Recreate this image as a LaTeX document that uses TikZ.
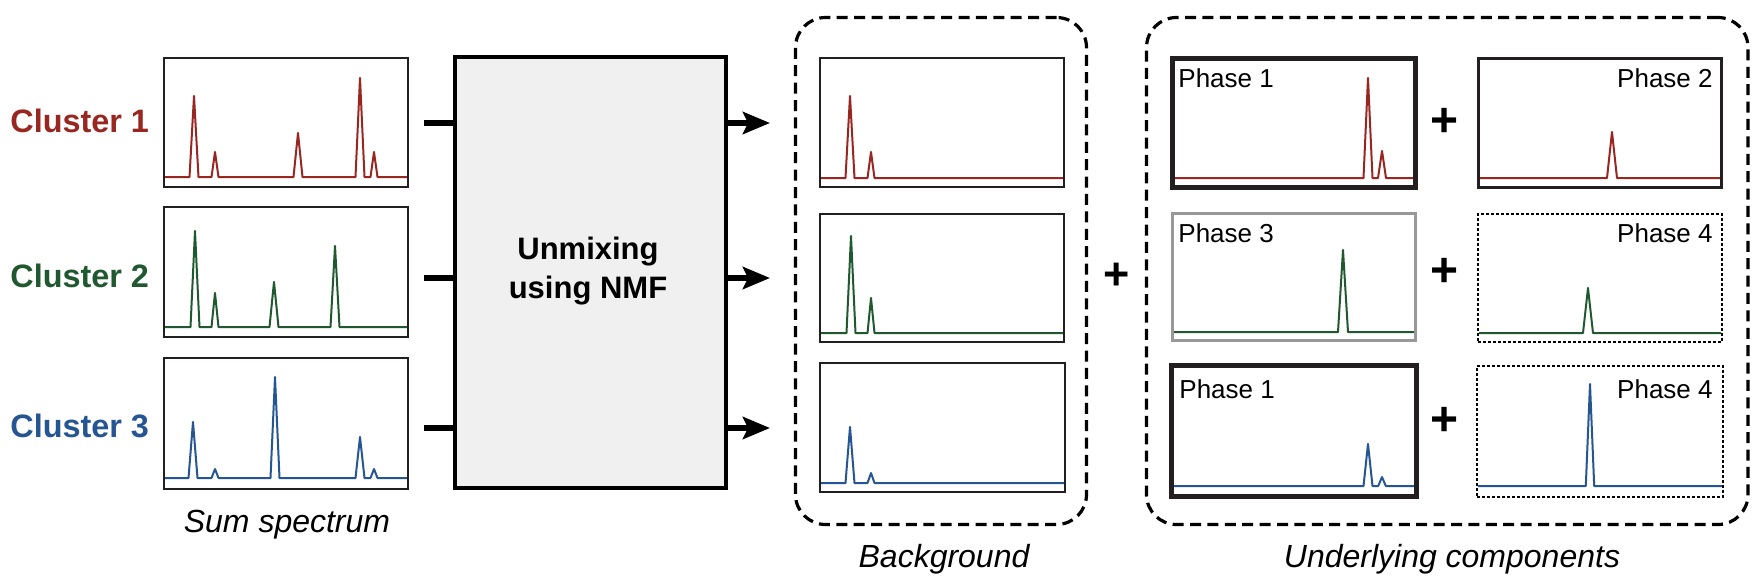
\documentclass[tikz,border=0pt]{standalone}
\usepackage{fontspec}
\setmainfont{Liberation Sans}
\usetikzlibrary{arrows.meta,fit}
\definecolor{cred}{RGB}{152,38,33}
\definecolor{cgreen}{RGB}{32,88,48}
\definecolor{cblue}{RGB}{38,86,146}
\definecolor{bdark}{RGB}{35,31,32}
\definecolor{nmffill}{RGB}{240,240,240}
\definecolor{bgray}{RGB}{152,152,152}
\begin{document}
\begin{tikzpicture}[x=0.5pt,y=-0.5pt,
  specbox/.style={draw=bdark,line width=1.35pt,inner sep=0pt,outer sep=0pt},
  thickbox/.style={draw=bdark,line width=2.4pt,inner sep=0pt,outer sep=0pt},
  graybox/.style={draw=bgray,line width=1.5pt,inner sep=0pt,outer sep=0pt},
  dotbox/.style={draw=black,line width=1.4pt,dash pattern=on 1.3pt off 1.2pt,inner sep=0pt,outer sep=0pt},
  groupbox/.style={draw=black,line width=1.6pt,dash pattern=on 5.5pt off 3.2pt,rounded corners=15pt,inner sep=0pt,outer sep=0pt},
  nmfbox/.style={draw=black,fill=nmffill,line width=2pt,inner sep=0pt,outer sep=0pt},
  clab/.style={inner sep=0pt,anchor=base west,font=\fontsize{16.2pt}{19pt}\selectfont\bfseries},
  captiontext/.style={inner sep=0pt,anchor=base,font=\fontsize{16pt}{19pt}\selectfont\itshape},
  phl/.style={inner sep=0pt,font=\fontsize{13pt}{15pt}\selectfont},
  plussign/.style={inner sep=0pt,font=\fontsize{24pt}{28pt}\selectfont\bfseries},
  conn/.style={draw=black,line width=2.8pt},
  arr/.style={conn,-{Stealth[length=13.5pt,width=11pt,inset=2.5pt]}},
  spec/.style={line width=1pt,line join=round}]
\fill[white] (0,0) rectangle (1758,580);
\useasboundingbox (0,0) rectangle (1758,580);

% group boxes
\node[groupbox,fit={(795.5,17.5) (1086.5,524.5)}] (gbg) {};
\node[groupbox,fit={(1146.5,17.5) (1748,524.5)}] (gun) {};

% NMF box
\node[nmfbox,fit={(455,57) (726,488)}] (nmf) {};
\node[inner sep=0pt,align=center,font=\fontsize{15.5pt}{19.5pt}\selectfont\bfseries] (nmft) at (588,271) {Unmixing\\using NMF};

% spectra: sum spectra
\draw[spec,cred] (164,177) -- (189.5,177) -- (194,96) -- (198.5,177) -- (211.5,177) -- (215,152) -- (218.5,177) -- (293.5,177) -- (298,133) -- (302.5,177) -- (355.5,177) -- (360,78) -- (364.5,177) -- (370.5,177) -- (374,152) -- (377.5,177) -- (408,177);
\draw[spec,cgreen] (164,327) -- (190.5,327) -- (195,231) -- (199.5,327) -- (211.5,327) -- (215,293) -- (218.5,327) -- (269.5,327) -- (274,282) -- (278.5,327) -- (330.5,327) -- (335,246) -- (339.5,327) -- (408,327);
\draw[spec,cblue] (164,478) -- (188.5,478) -- (193,422) -- (197.5,478) -- (211.5,478) -- (215,469) -- (218.5,478) -- (270.5,478) -- (275,377) -- (279.5,478) -- (355.5,478) -- (360,437) -- (364.5,478) -- (370.5,478) -- (374,469) -- (377.5,478) -- (408,478);

% background spectra
\draw[spec,cred] (820,178) -- (845.5,178) -- (850,96) -- (854.5,178) -- (867.5,178) -- (871,152) -- (874.5,178) -- (1064,178);
\draw[spec,cgreen] (820,333) -- (846.5,333) -- (851,236) -- (855.5,333) -- (867.5,333) -- (871,298) -- (874.5,333) -- (1064,333);
\draw[spec,cblue] (820,483) -- (845.5,483) -- (850,427) -- (854.5,483) -- (867.5,483) -- (871,473) -- (874.5,483) -- (1065,483);

% component spectra
\draw[spec,cred] (1174,178) -- (1363.5,178) -- (1368,78) -- (1372.5,178) -- (1378,178) -- (1382,151) -- (1386,178) -- (1414,178);
\draw[spec,cred] (1479,178) -- (1607,178) -- (1612,132) -- (1617,178) -- (1721,178);
\draw[spec,cgreen] (1174,332) -- (1338,332) -- (1343,250) -- (1348,332) -- (1414,332);
\draw[spec,cgreen] (1479,333) -- (1583,333) -- (1588,288) -- (1593,333) -- (1721,333);
\draw[spec,cblue] (1173,486) -- (1363.5,486) -- (1368,444) -- (1372.5,486) -- (1378.2,486) -- (1382,477) -- (1385.8,486) -- (1415,486);
\draw[spec,cblue] (1478,486) -- (1585.8,486) -- (1590,384) -- (1594.2,486) -- (1722,486);

% spectrum boxes
\node[specbox,fit={(164,58) (408,187)}] (c1) {};
\node[specbox,fit={(164,207) (408,337)}] (c2) {};
\node[specbox,fit={(164,358) (408,489)}] (c3) {};
\node[specbox,fit={(820,58) (1064,187)}] (bg1) {};
\node[specbox,fit={(820,214) (1064,342)}] (bg2) {};
\node[specbox,fit={(820,363) (1065,492)}] (bg3) {};
\node[thickbox,fit={(1172.5,58.5) (1415.5,187.5)}] (p1a) {};
\node[specbox,fit={(1478.3,58.3) (1721.7,187.7)}] (p2a) {};
\node[graybox,fit={(1172.5,213.5) (1415.5,340.5)}] (p3a) {};
\node[dotbox,fit={(1478,214) (1722,342)}] (p4a) {};
\node[thickbox,fit={(1171.5,365.5) (1416.5,496.5)}] (p1b) {};
\node[dotbox,fit={(1477,366) (1723,497)}] (p4b) {};

% labels
\node[clab,text=cred] (l1) at (10,132) {Cluster 1};
\node[clab,text=cgreen] (l2) at (10,287) {Cluster 2};
\node[clab,text=cblue] (l3) at (10,437) {Cluster 3};

\node[phl,anchor=base west] (t1) at (1178,87) {Phase 1};
\node[phl,anchor=base east] (t2) at (1713,87) {Phase 2};
\node[phl,anchor=base west] (t3) at (1178,242) {Phase 3};
\node[phl,anchor=base east] (t4) at (1713,242) {Phase 4};
\node[phl,anchor=base west] (t5) at (1179,398) {Phase 1};
\node[phl,anchor=base east] (t6) at (1713,398) {Phase 4};

\node[plussign] (pl1) at (1444.5,122) {+};
\node[plussign] (pl2) at (1444.5,272) {+};
\node[plussign] (pl3) at (1444.5,421) {+};
\node[plussign,font=\fontsize{22.5pt}{26pt}\selectfont\bfseries] (plbig) at (1117,276) {+};

\node[captiontext] (cs) at (287,532) {Sum spectrum};
\node[captiontext] (cb) at (944,567) {Background};
\node[captiontext] (cu) at (1452,567) {Underlying components};

% connectors
\coordinate (in1) at (424,123);
\coordinate (in2) at (424,278);
\coordinate (in3) at (424,428);
\coordinate (out1) at (770,123);
\coordinate (out2) at (770,278);
\coordinate (out3) at (770,428);
\draw[conn] (in1) -- (in1 -| nmf.west);
\draw[conn] (in2) -- (in2 -| nmf.west);
\draw[conn] (in3) -- (in3 -| nmf.west);
\draw[arr] (out1 -| nmf.east) -- (out1);
\draw[arr] (out2 -| nmf.east) -- (out2);
\draw[arr] (out3 -| nmf.east) -- (out3);
\end{tikzpicture}
\end{document}
